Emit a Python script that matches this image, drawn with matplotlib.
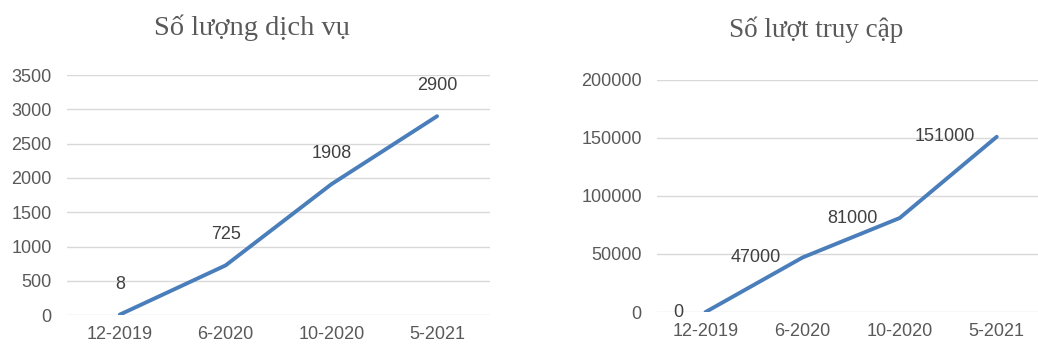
import matplotlib
matplotlib.use('Agg')
import matplotlib.pyplot as plt

months = ['12-2019', '6-2020', '10-2020', '5-2021']
services = [8, 725, 1908, 2900]
visits = [0, 47000, 81000, 151000]

blue = '#4a7ebb'
grey = '#595959'
plt.rcParams['font.family'] = ['Liberation Sans', 'DejaVu Sans']

fig = plt.figure(figsize=(10.38, 3.49), dpi=100)
ax1 = fig.add_axes([0.0645, 0.097, 0.4075, 0.688])
ax2 = fig.add_axes([0.633, 0.106, 0.374, 0.665])


def style(ax, ymax, step):
    ax.set_ylim(0, ymax)
    ax.set_yticks(range(0, ymax + 1, step))
    ax.set_xlim(-0.5, len(months) - 0.5)
    ax.set_xticks(range(len(months)))
    ax.set_xticklabels(months)
    for s in ax.spines.values():
        s.set_visible(False)
    ax.grid(axis='y', color='#d9d9d9', linewidth=1)
    ax.set_axisbelow(True)
    ax.tick_params(length=0, labelsize=13, colors=grey)
    ax.tick_params(axis='x', pad=8)
    ax.tick_params(axis='y', pad=11)


style(ax1, 3500, 500)
ax1.plot(range(len(months)), services, color=blue, linewidth=2.8, solid_capstyle='round')
for i, v in enumerate(services):
    ax1.annotate(str(v), (i, v), xytext=(0, 22), textcoords='offset points',
                 ha='center', va='center', fontsize=13, color='#404040')

style(ax2, 200000, 50000)
ax2.plot(range(len(months)), visits, color=blue, linewidth=2.8, solid_capstyle='round')
for i, v in enumerate(visits):
    ax2.annotate(str(v), (i, v), xytext=(-16, 0), textcoords='offset points',
                 ha='right', va='center', fontsize=13, color='#404040')

fig.text(0.243, 0.92, 'Số lượng dịch vụ', ha='center', va='center',
         fontsize=20.5, color=grey, family=['Liberation Serif', 'DejaVu Serif'])
fig.text(0.786, 0.914, 'Số lượt truy cập', ha='center', va='center',
         fontsize=19.5, color=grey, family=['Liberation Serif', 'DejaVu Serif'])

fig.savefig('out.png', dpi=100)
